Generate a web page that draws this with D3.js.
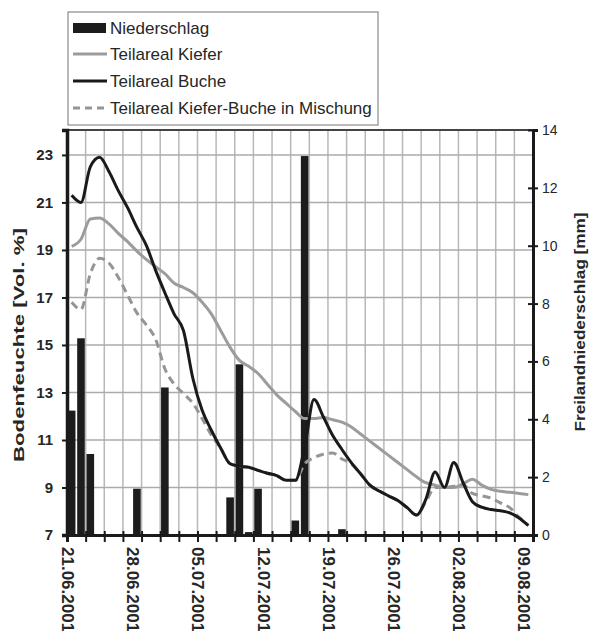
<!DOCTYPE html>
<html><head><meta charset="utf-8">
<script src="https://cdn.jsdelivr.net/npm/d3@7"></script>
<style>body{margin:0;background:#fff}svg{display:block}text{font-family:"Liberation Sans",Arial,sans-serif;fill:#262626}</style>
</head><body><svg id="c" width="590" height="631"></svg>
<script>
const dates = ["21.06.2001","22.06.2001","23.06.2001","24.06.2001","25.06.2001","26.06.2001","27.06.2001","28.06.2001","29.06.2001","30.06.2001",
"01.07.2001","02.07.2001","03.07.2001","04.07.2001","05.07.2001","06.07.2001","07.07.2001","08.07.2001","09.07.2001","10.07.2001",
"11.07.2001","12.07.2001","13.07.2001","14.07.2001","15.07.2001","16.07.2001","17.07.2001","18.07.2001","19.07.2001","20.07.2001",
"21.07.2001","22.07.2001","23.07.2001","24.07.2001","25.07.2001","26.07.2001","27.07.2001","28.07.2001","29.07.2001","30.07.2001",
"31.07.2001","01.08.2001","02.08.2001","03.08.2001","04.08.2001","05.08.2001","06.08.2001","07.08.2001","08.08.2001","09.08.2001"];
const kiefer = [19.15,19.45,20.3,20.35,20.1,19.7,19.35,18.95,18.6,18.3,
18.0,17.6,17.42,17.2,16.8,16.3,15.6,14.9,14.35,14.1,
13.8,13.35,12.9,12.55,12.2,11.9,11.9,11.95,11.85,11.75,
11.55,11.25,10.95,10.65,10.35,10.05,9.75,9.45,9.2,9.1,
9.0,9.0,9.15,9.35,9.1,8.92,8.84,8.8,8.75,8.7];
const buche = [21.3,21.0,22.5,22.9,22.3,21.5,20.78,19.95,19.2,18.15,
17.2,16.3,15.6,13.6,12.25,11.4,10.65,10.0,9.9,9.85,
9.72,9.6,9.5,9.3,9.3,10.7,12.7,11.98,11.2,10.6,
10.05,9.58,9.1,8.85,8.65,8.45,8.15,7.84,8.5,9.65,
9.0,10.05,9.2,8.4,8.17,8.07,8.02,7.93,7.72,7.4];
const mischung = [16.8,16.5,18.0,18.65,18.45,17.85,17.1,16.35,15.85,15.25,
14.0,13.35,12.95,12.55,11.9,11.2,10.65,10.0,9.9,9.85,
9.72,9.6,9.5,9.3,9.3,10.0,10.25,10.4,10.45,10.2,
10.0,9.58,9.1,8.85,8.65,8.45,8.15,7.84,8.4,9.0,
9.0,9.05,9.1,8.75,8.65,8.55,8.35,8.15,7.75,7.4];
const rainDates = ["21.06.2001","22.06.2001","23.06.2001","28.06.2001","01.07.2001","08.07.2001","09.07.2001","10.07.2001","11.07.2001","15.07.2001","16.07.2001","20.07.2001"];
const rainValues = [4.3,6.8,2.8,1.6,5.1,1.3,5.9,0.1,1.6,0.5,13.1,0.2];
const leftTicks = [7,9,11,13,15,17,19,21,23];
const rightTicks = [0,2,4,6,8,10,12,14];
const dateLabels = ["21.06.2001","28.06.2001","05.07.2001","12.07.2001","19.07.2001","26.07.2001","02.08.2001","09.08.2001"];
const legendItems = ["Niederschlag","Teilareal Kiefer","Teilareal Buche","Teilareal Kiefer-Buche in Mischung"];
const leftTitle = "Bodenfeuchte [Vol. %]";
const rightTitle = "Freilandniederschlag [mm]";

const parse = d3.timeParse("%d.%m.%Y");
const svg = d3.select("#c");
const L = 67, R = 533, T = 130, B = 535;
const x = d3.scaleTime()
  .domain([d3.timeHour.offset(parse(dates[0]), -12), d3.timeHour.offset(parse(dates[dates.length-1]), 12)])
  .range([L, R]);
const yL = d3.scaleLinear().domain([7, 24.05]).range([B, T]);
const yR = d3.scaleLinear().domain([0, 14]).range([B, T]);

const gridCol = "#b8b8b8";
const gridDates = d3.range(1, 25).map(k => d3.timeHour.offset(x.domain()[0], 48 * k));
svg.append("g").selectAll("line").data(gridDates).join("line")
  .attr("x1", d => x(d)).attr("x2", d => x(d)).attr("y1", T).attr("y2", B)
  .attr("stroke", gridCol).attr("stroke-width", 1.5);
svg.append("g").selectAll("line").data(leftTicks.slice(1)).join("line")
  .attr("x1", L).attr("x2", R).attr("y1", d => yL(d)).attr("y2", d => yL(d))
  .attr("stroke", "#ababab").attr("stroke-width", 1.6);

svg.append("g").selectAll("rect").data(rainDates.map((d, i) => ({d: parse(d), v: rainValues[i]}))).join("rect")
  .attr("x", d => x(d.d) - 3.8).attr("width", 7.6)
  .attr("y", d => yR(d.v)).attr("height", d => yR(0) - yR(d.v))
  .attr("fill", "#1c1c1c");

const mk = arr => dates.map((d, i) => ({d: parse(d), v: arr[i]}));
const line = d3.line().x(d => x(d.d)).y(d => yL(d.v)).curve(d3.curveMonotoneX);
svg.append("path").datum(mk(kiefer)).attr("d", line)
  .attr("fill", "none").attr("stroke", "#9c9c9c").attr("stroke-width", 3).attr("stroke-linejoin", "round");
svg.append("path").datum(mk(mischung)).attr("d", line)
  .attr("fill", "none").attr("stroke", "#959595").attr("stroke-width", 3).attr("stroke-dasharray", "8,5");
svg.append("path").datum(mk(buche)).attr("d", line)
  .attr("fill", "none").attr("stroke", "#1a1a1a").attr("stroke-width", 3).attr("stroke-linejoin", "round");

svg.append("line").attr("x1", L).attr("x2", R).attr("y1", T).attr("y2", T).attr("stroke", "#444").attr("stroke-width", 2);

const gl = svg.append("g").attr("transform", `translate(${L},0)`)
  .call(d3.axisLeft(yL).tickValues(leftTicks).tickSize(5).tickPadding(9).tickFormat(d3.format("d")));
gl.select(".domain").attr("stroke", "#1a1a1a").attr("stroke-width", 3.5);
gl.selectAll(".tick line").attr("stroke", "#1a1a1a").attr("stroke-width", 2);
gl.selectAll(".tick text").style("font-size", "15px").style("font-weight", "bold").attr("fill", "#262626");

const gr = svg.append("g").attr("transform", `translate(${R},0)`)
  .call(d3.axisRight(yR).tickValues(rightTicks).tickSize(5).tickPadding(4));
gr.select(".domain").attr("stroke", "#1a1a1a").attr("stroke-width", 3);
gr.selectAll(".tick line").attr("x1", -5).attr("stroke", "#1a1a1a").attr("stroke-width", 2);
gr.selectAll(".tick text").style("font-size", "14px").attr("fill", "#262626");

const gb = svg.append("g").attr("transform", `translate(0,${B})`)
  .call(d3.axisBottom(x).tickValues(gridDates).tickSize(7).tickFormat(""));
gb.select(".domain").attr("stroke", "#1a1a1a").attr("stroke-width", 3);
gb.selectAll(".tick line").attr("y1", -4).attr("stroke", "#1a1a1a").attr("stroke-width", 2);
svg.append("g").selectAll("text").data(dateLabels).join("text")
  .attr("transform", d => `translate(${x(parse(d))},547) rotate(90)`)
  .attr("dy", "0.58em").attr("text-anchor", "start")
  .style("font-size", "17px").style("font-weight", "bold").text(d => d);

svg.append("text").attr("transform", "translate(19,345) rotate(-90)")
  .attr("text-anchor", "middle").attr("dy", "0.35em")
  .attr("textLength", 234).attr("lengthAdjust", "spacingAndGlyphs")
  .style("font-size", "15px").style("font-weight", "bold").text(leftTitle);
svg.append("text").attr("transform", "translate(580,322) rotate(-90)")
  .attr("text-anchor", "middle").attr("dy", "0.35em")
  .attr("textLength", 219).attr("lengthAdjust", "spacingAndGlyphs")
  .style("font-size", "15px").style("font-weight", "bold").text(rightTitle);

const lg = svg.append("g");
lg.append("rect").attr("x", 68).attr("y", 12).attr("width", 310).attr("height", 113)
  .attr("fill", "#fff").attr("stroke", "#8a8a8a").attr("stroke-width", 1.2);
const ly = [28, 54, 81, 108];
lg.append("rect").attr("x", 73).attr("y", ly[0] - 5).attr("width", 33).attr("height", 10).attr("fill", "#1c1c1c");
lg.append("line").attr("x1", 73).attr("x2", 107).attr("y1", ly[1]).attr("y2", ly[1]).attr("stroke", "#9c9c9c").attr("stroke-width", 3);
lg.append("line").attr("x1", 73).attr("x2", 107).attr("y1", ly[2]).attr("y2", ly[2]).attr("stroke", "#1a1a1a").attr("stroke-width", 3);
lg.append("line").attr("x1", 73).attr("x2", 107).attr("y1", ly[3]).attr("y2", ly[3]).attr("stroke", "#959595").attr("stroke-width", 3).attr("stroke-dasharray", "7,5");
lg.selectAll("text.li").data(legendItems).join("text").attr("class", "li")
  .attr("x", 110).attr("y", (d, i) => ly[i]).attr("dy", "0.35em")
  .style("font-size", "17px").text(d => d);
</script></body></html>
